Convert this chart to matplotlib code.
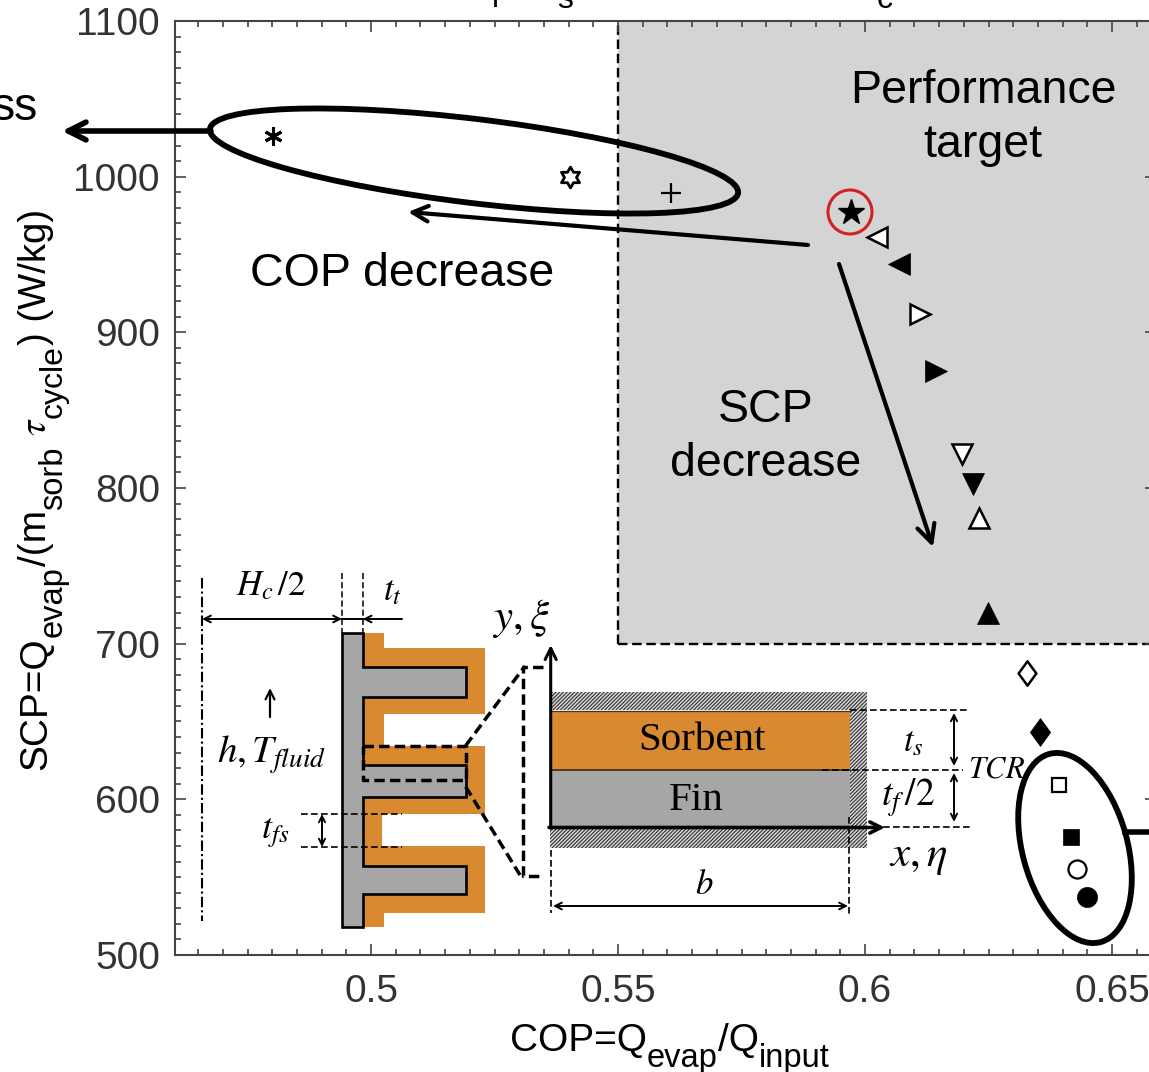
import matplotlib
matplotlib.use("Agg")
import matplotlib.pyplot as plt
from matplotlib.patches import Ellipse, Circle, Polygon, Rectangle
from matplotlib.path import Path
from matplotlib.ticker import MultipleLocator

plt.rcParams["font.family"] = ["Liberation Sans", "DejaVu Sans"]
plt.rcParams["mathtext.fontset"] = "stix"
plt.rcParams["hatch.linewidth"] = 0.8

# points
cop_group_a = [0.4802, 0.5403, 0.5607]
scp_group_a = [1026, 1000, 989.5]
cop_best = [0.5972]
scp_best = [977]
cop_group_b = [0.6024, 0.6069, 0.6111, 0.6144, 0.6196, 0.6219, 0.6231, 0.6249, 0.6328, 0.6354]
scp_group_b = [961, 944, 912, 875, 822, 802.5, 781, 720, 681, 643]
cop_group_c = [0.6393, 0.6417, 0.6429, 0.6449]
scp_group_c = [609, 576, 555, 537]
x_ticks = [0.5, 0.55, 0.6, 0.65]
x_tick_labels = ["0.5", "0.55", "0.6", "0.65"]
y_ticks = [500, 600, 700, 800, 900, 1000, 1100]
target_cop = 0.55
target_scp = 700

ORANGE = "#d98a30"
GRAY = "#a6a6a6"
W, H = 1149, 1072
star6 = Path.unit_regular_star(6, innerCircle=0.577)
tall_diamond = Path([(0, 1), (0.73, 0), (0, -1), (-0.73, 0), (0, 1)], closed=True)

fig = plt.figure(figsize=(W / 100, H / 100), dpi=100)
left, right, top, bottom = 174.5, 1156, 21, 955
ax = fig.add_axes([left / W, 1 - bottom / H, (right - left) / W, (bottom - top) / H])
ax.set_xlim(0.5 - (371 - left) / 4940, 0.5 + (right - 371) / 4940)
ax.set_ylim(500, 1100)

ax.axvspan(target_cop, ax.get_xlim()[1], ymin=(target_scp - 500) / 600, color="#d4d4d4", lw=0, zorder=0)
ax.plot([target_cop, target_cop], [target_scp, 1100], "k", ls=(0, (4, 2)), lw=1.7, zorder=1)
ax.plot([target_cop, ax.get_xlim()[1]], [target_scp, target_scp], "k", ls=(0, (4, 2)), lw=1.7, zorder=1)

# markers of the three groups
a_styles = [((6, 2, 0), 13, "k", 2.2), (star6, 15, "none", 2.0), ("+", 14, "k", 1.6)]
for xv, yv, (m, ms, fc, mew) in zip(cop_group_a, scp_group_a, a_styles):
    ax.plot(xv, yv, marker=m, ms=ms, mfc=fc, mec="k", mew=mew, ls="none", zorder=3)
ax.plot(cop_best, scp_best, marker="*", ms=19, color="k", ls="none", zorder=3)
b_styles = [("<", "white", 14.5), ("<", "k", 16), (">", "white", 15), (">", "k", 16), ("v", "white", 14.5),
            ("v", "k", 16), ("^", "white", 14.5), ("^", "k", 16), (tall_diamond, "white", 17.5), (tall_diamond, "k", 20)]
for xv, yv, (m, fc, ms) in zip(cop_group_b, scp_group_b, b_styles):
    ax.plot(xv, yv, marker=m, ms=ms, mfc=fc, mec="k", mew=1.8 if fc == "white" else 0.5, ls="none", zorder=3)
c_styles = [("s", "white", 10), ("s", "k", 12), ("o", "white", 13), ("o", "k", 14.5)]
for xv, yv, (m, fc, ms) in zip(cop_group_c, scp_group_c, c_styles):
    ax.plot(xv, yv, marker=m, ms=ms, mfc=fc, mec="k", mew=1.6 if fc == "white" else 0.5, ls="none", zorder=3)

ax.set_xticks(x_ticks)
ax.set_xticklabels(x_tick_labels)
ax.set_yticks(y_ticks)
ax.xaxis.set_minor_locator(MultipleLocator(0.005))
ax.yaxis.set_minor_locator(MultipleLocator(10))
ax.tick_params(which="both", direction="in", top=True, right=True, color="#444444", width=1.2, zorder=2)
ax.tick_params(which="major", length=8, pad=10.5, labelsize=28, labelcolor="#333333")
ax.tick_params(axis="x", which="major", pad=13.5)
ax.tick_params(which="minor", length=4)
for s in ax.spines.values():
    s.set_color("#444444")
    s.set_linewidth(1.5)

# overlay in pixel coordinates for the annotations and the sketch
ov = fig.add_axes([0, 0, 1, 1])
ov.set_xlim(0, W)
ov.set_ylim(H, 0)
ov.axis("off")
ov.patch.set_alpha(0)


def arrow(x0, y0, x1, y1, lw=1.2, style="->", scale=14, color="k"):
    ov.annotate("", xy=(x1, y1), xytext=(x0, y0),
                arrowprops=dict(arrowstyle=style, lw=lw, color=color, shrinkA=0, shrinkB=0, mutation_scale=scale))


def dline(xs, ys, lw=1.0, ls=(0, (4, 2))):
    ov.plot(xs, ys, color="k", lw=lw, ls=ls)


def run_text(x, y, pieces, vertical=False):
    # pieces placed one after the other, each (text, size, drop)
    r = fig.canvas.get_renderer()
    for s, size, drop in pieces:
        if vertical:
            t = ov.text(x + drop, y, s, fontsize=size, rotation=90, rotation_mode="anchor", ha="left", va="baseline")
            y -= t.get_window_extent(r).height
        else:
            t = ov.text(x, y + drop, s, fontsize=size, ha="left", va="baseline")
            x += t.get_window_extent(r).width


# ellipses and big arrows
ov.add_patch(Ellipse((474, 161), 532, 84, angle=6.9, fill=False, ec="k", lw=4.2))
ov.add_patch(Ellipse((1075, 848), 195, 105, angle=74.7, fill=False, ec="k", lw=4.2))
ov.add_patch(Circle((850, 212), 22, fill=False, ec="#d42020", lw=2.2))
arrow(211, 131, 62, 131, lw=4.0, scale=32)
ov.plot([1125, 1149], [832, 832], color="k", lw=4.0)
arrow(808, 245, 408, 212, lw=3.0, scale=28)
arrow(839, 264, 933, 547, lw=3.0, scale=32)

ov.text(983, 118, "Performance\ntarget", fontsize=33.5, ha="center", va="center", linespacing=1.29)
ov.text(766, 437, "SCP\ndecrease", fontsize=33.5, ha="center", va="center", linespacing=1.31)
ov.text(402, 274, "COP decrease", fontsize=33.5, ha="center", va="center")
ov.text(38, 108, "ss", fontsize=33.5, ha="right", va="center")

# cut off at the top edge in the reference
ov.text(492, 0, "p", fontsize=23, ha="left", va="baseline")
ov.text(557, 8, "s", fontsize=23, ha="left", va="baseline")
ov.text(877, 8, "c", fontsize=23, ha="left", va="baseline")

# axis labels
run_text(510, 1051, [("COP=Q", 28, 0), ("evap", 23.5, 16), ("/Q", 28, 0), ("input", 23.5, 16)])
run_text(46, 770, [("SCP=Q", 28, 0), ("evap", 23.5, 16), ("/(m", 28, 0), ("sorb", 23.5, 16), (" ", 28, 0),
                   (r"$\tau$", 28, 0), ("cycle", 23, 16), (") (W/kg)", 27.5, 0)], vertical=True)


def z1(pts):
    return [(170 + p[0] / 3, 560 + p[1] / 3) for p in pts]


# sketch of the fin and sorbent
ov.add_patch(Polygon(z1([(578, 218), (643, 218), (643, 265), (945, 265), (945, 462), (643, 462), (643, 558),
                         (945, 558), (945, 762), (635, 762), (635, 858), (945, 858), (945, 1060), (643, 1060),
                         (643, 1100), (578, 1100)]), fc=ORANGE, ec="none"))
ov.add_patch(Polygon(z1([(516, 218), (578, 218), (578, 320), (887, 320), (887, 410), (578, 410), (578, 615),
                         (887, 615), (887, 712), (578, 712), (578, 918), (887, 918), (887, 1003), (578, 1003),
                         (578, 1100), (516, 1100)]), fc=GRAY, ec="k", lw=1.9))
box = z1([(578, 557), (887, 557), (887, 660), (578, 660), (578, 557)])
ov.plot([p[0] for p in box], [p[1] for p in box], color="k", lw=2.5, ls=(0, (3, 1.5)))
for p, q in [((887, 557), (1065, 318)), ((887, 680), (1050, 945))]:
    a, b = z1([p, q])
    ov.plot([a[0], b[0]], [a[1], b[1]], color="k", lw=2.5, ls=(0, (3, 1.5)))
ov.plot([543, 523, 523, 543], [667, 667, 876, 876], color="k", lw=2.5, ls=(0, (3, 1.5)))

dline([201.7, 201.7], [578, 921], lw=1.5, ls=(0, (5, 1.5, 1, 1.5)))
dline([342, 342], [573, 633], lw=1.1)
dline([362.7, 362.7], [573, 633], lw=1.1)
arrow(202, 619, 342, 619, style="<->", scale=12, lw=1.4)
arrow(402, 619, 362.7, 619, scale=12, lw=1.4)
ov.plot([342, 362.7], [619, 619], color="k", lw=1.4)
arrow(270, 717, 270, 688, scale=16, lw=1.6)
dline([301, 402], [814, 814], lw=1.2)
dline([301, 402], [847, 847], lw=1.2)
arrow(322, 814, 322, 847, style="<->", scale=11, lw=1.4)

ov.text(271, 586, r"$H_c\,/2$", fontsize=25, ha="center", va="center")
ov.text(392, 591, r"$t_t$", fontsize=25, ha="center", va="center")
ov.text(217, 755, r"$h,T_{fluid}$", fontsize=28, ha="left", va="center")
ov.text(275, 833, r"$t_{fs}$", fontsize=26, ha="center", va="center")
ov.text(521, 618, r"$y,\xi$", fontsize=31, ha="center", va="center")

# zoomed cell
for x0, y0, x1, y1 in [(550.7, 691.7, 866.7, 710), (850, 710, 866.7, 828), (550, 828, 866.7, 848)]:
    ov.add_patch(Rectangle((x0, y0), x1 - x0, y1 - y0, fc="#d8d8d8", ec="#303030", lw=0, hatch="/////////"))
ov.add_patch(Rectangle((550.7, 710.7), 299, 59.3, fc=ORANGE, ec="none"))
ov.add_patch(Rectangle((550.7, 770), 299, 57, fc=GRAY, ec="none"))
ov.plot([550.7, 850], [770, 770], color="#4a3018", lw=1.3)
ov.plot([550.7, 850], [710.5, 710.5], color="#4a3018", lw=0.9)
arrow(550.7, 828, 550.7, 645, lw=2.2, scale=20)
arrow(549, 827.5, 885, 827.5, lw=2.6, scale=20)
dline([850, 970], [710, 710], lw=1.2)
dline([822, 963], [770, 770], lw=1.2)
dline([883, 970], [827, 827], lw=1.2)
dline([550.7, 550.7], [850, 913], lw=1.2)
dline([849.3, 849.3], [817, 915], lw=1.2)
arrow(954, 713, 954, 766, style="<->", scale=11, lw=1.4)
arrow(954, 773, 954, 822, style="<->", scale=11, lw=1.4)
arrow(553, 906, 848, 906, style="<->", scale=12, lw=1.4)

serif = ["Liberation Serif", "DejaVu Serif"]
ov.text(701.7, 740, "Sorbent", fontsize=29.5, family=serif, ha="center", va="center")
ov.text(696, 801, "Fin", fontsize=29.5, family=serif, ha="center", va="center")
ov.text(704, 885, r"$b$", fontsize=25, ha="center", va="center")
ov.text(913, 742, r"$t_s$", fontsize=25, ha="center", va="center")
ov.text(908, 798, r"$t_f\,/2$", fontsize=27, ha="center", va="center")
ov.text(968, 770, r"$TCR$", fontsize=22, ha="left", va="center")
ov.text(918, 857, r"$x,\eta$", fontsize=31, ha="center", va="center")

fig.savefig("out.png", dpi=100)
